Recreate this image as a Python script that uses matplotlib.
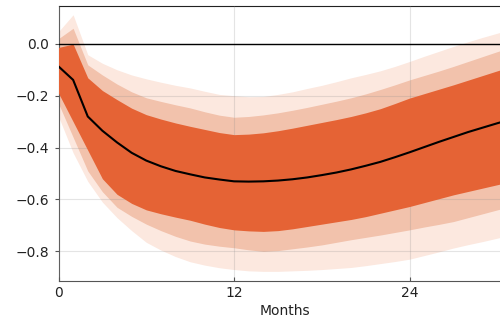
import numpy as np
import matplotlib
matplotlib.use('Agg')
import matplotlib.pyplot as plt

# impulse response: median path and three credible bands, monthly horizon
months = np.arange(32)

median = [-0.087, -0.139, -0.28, -0.335, -0.38, -0.42, -0.45, -0.472, -0.49, -0.503,
          -0.515, -0.523, -0.53, -0.531, -0.53, -0.527, -0.522, -0.515, -0.506, -0.496,
          -0.484, -0.47, -0.455, -0.437, -0.418, -0.398, -0.378, -0.359, -0.34, -0.323,
          -0.306, -0.29]

inner_hi = [-0.014, -0.001, -0.131, -0.18, -0.215, -0.248, -0.273, -0.29, -0.305, -0.318,
            -0.33, -0.342, -0.35, -0.348, -0.343, -0.335, -0.325, -0.314, -0.303, -0.292,
            -0.28, -0.266, -0.25, -0.23, -0.209, -0.192, -0.175, -0.158, -0.14, -0.122,
            -0.104, -0.087]
inner_lo = [-0.19, -0.30, -0.41, -0.52, -0.58, -0.615, -0.64, -0.655, -0.668, -0.68,
            -0.695, -0.708, -0.717, -0.721, -0.723, -0.72, -0.713, -0.704, -0.695, -0.686,
            -0.677, -0.666, -0.653, -0.64, -0.627, -0.612, -0.597, -0.582, -0.569, -0.556,
            -0.543, -0.53]

mid_hi = [0.02, 0.06, -0.081, -0.12, -0.155, -0.185, -0.208, -0.222, -0.235, -0.247,
          -0.262, -0.275, -0.283, -0.28, -0.274, -0.266, -0.256, -0.245, -0.233, -0.221,
          -0.208, -0.193, -0.176, -0.158, -0.139, -0.122, -0.105, -0.087, -0.068, -0.049,
          -0.030, -0.012]
mid_lo = [-0.23, -0.36, -0.49, -0.57, -0.63, -0.665, -0.695, -0.72, -0.742, -0.76,
          -0.772, -0.78, -0.786, -0.794, -0.80, -0.797, -0.79, -0.783, -0.775, -0.765,
          -0.755, -0.746, -0.737, -0.727, -0.717, -0.706, -0.696, -0.685, -0.67, -0.655,
          -0.64, -0.625]

outer_hi = [0.047, 0.112, -0.042, -0.075, -0.10, -0.12, -0.135, -0.148, -0.16, -0.17,
            -0.183, -0.195, -0.20, -0.204, -0.203, -0.195, -0.185, -0.172, -0.16, -0.146,
            -0.131, -0.118, -0.104, -0.087, -0.068, -0.048, -0.029, -0.01, 0.008, 0.025,
            0.041, 0.057]
outer_lo = [-0.28, -0.42, -0.53, -0.61, -0.67, -0.72, -0.765, -0.795, -0.82, -0.84,
            -0.853, -0.863, -0.87, -0.875, -0.877, -0.877, -0.875, -0.873, -0.87, -0.866,
            -0.862, -0.855, -0.847, -0.839, -0.83, -0.816, -0.802, -0.787, -0.774, -0.762,
            -0.749, -0.736]

xticks = [0, 12, 24]
yticks = [-0.8, -0.6, -0.4, -0.2, 0.0]

fig = plt.figure(figsize=(5.0, 3.27), dpi=100)
ax = fig.add_axes([0.117, 0.14, 0.907, 0.841])

ax.fill_between(months, outer_lo, outer_hi, color='#fce8df', lw=0, zorder=1)
ax.fill_between(months, mid_lo, mid_hi, color='#f2c2ac', lw=0, zorder=2)
ax.fill_between(months, inner_lo, inner_hi, color='#e56335', lw=0, zorder=3)
ax.plot(months, median, color='black', lw=1.5, zorder=5)
ax.axhline(0, color='black', lw=1.0, zorder=4)

ax.grid(True, color='#888888', alpha=0.22, lw=0.8, zorder=4)
ax.set_axisbelow(False)

ax.set_xlim(0, 31)
ax.set_ylim(-0.915, 0.145)
ax.set_xticks(xticks)
ax.set_yticks(yticks)
ax.set_yticklabels([('%.1f' % v).replace('-', '\u2212') for v in yticks])
ax.tick_params(axis='x', direction='in', length=3, labelsize=10, colors='#555555', labelcolor='#222222')
ax.tick_params(axis='y', direction='out', length=3, labelsize=10, colors='#555555', labelcolor='#222222')
ax.set_xlabel('Months', fontsize=10, color='#222222', labelpad=3)

for side in ['left', 'bottom']:
    ax.spines[side].set_color('#555555')
ax.spines['top'].set_color('#222222')
ax.spines['right'].set_visible(False)

fig.savefig('out.png', dpi=100)
